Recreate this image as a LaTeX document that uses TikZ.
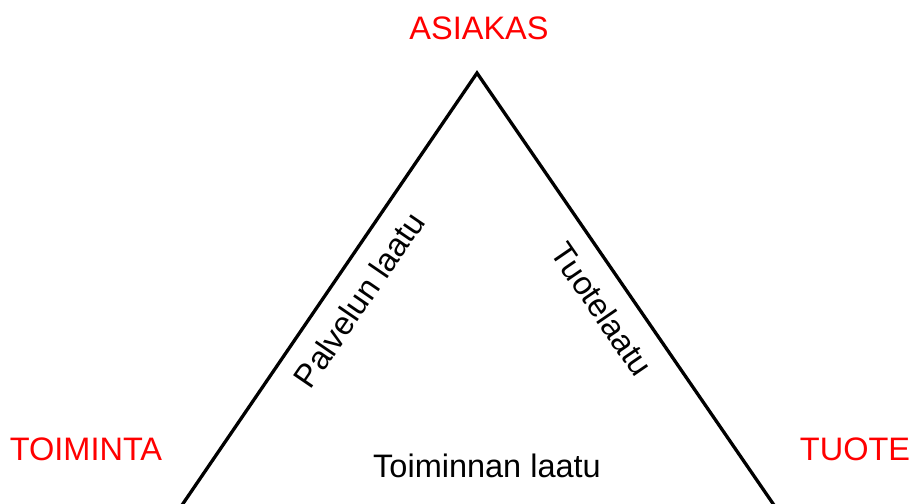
\documentclass[tikz,border=0pt]{standalone}
\usepackage{fontspec}
\setmainfont{Liberation Sans}
\begin{document}
\begin{tikzpicture}[x=1pt,y=-1pt,
  lbl/.style={inner sep=0pt, font=\fontsize{32.5}{38}\selectfont},
  corner/.style={lbl, text=red},
  edge/.style={line width=3.3pt, line join=miter}]
\useasboundingbox (0,0) rectangle (912,503);
\clip (0,0) rectangle (912,503);
\coordinate (apex) at (477,73);
\coordinate (bl) at (180,508);
\coordinate (br) at (776,508);
\draw[edge] (bl) -- (apex) -- (br);
\node[corner] (asiakas) at (479,28) {ASIAKAS};
\node[corner] (toiminta) at (86,449) {TOIMINTA};
\node[corner] (tuote) at (855,449) {TUOTE};
\node[lbl, rotate=55.6] (palvelu) at (359,300) {Palvelun laatu};
\node[lbl, rotate=-55.6] (tuotel) at (602,309) {Tuotelaatu};
\node[lbl] (toim) at (487,466) {Toiminnan laatu};
\end{tikzpicture}
\end{document}
